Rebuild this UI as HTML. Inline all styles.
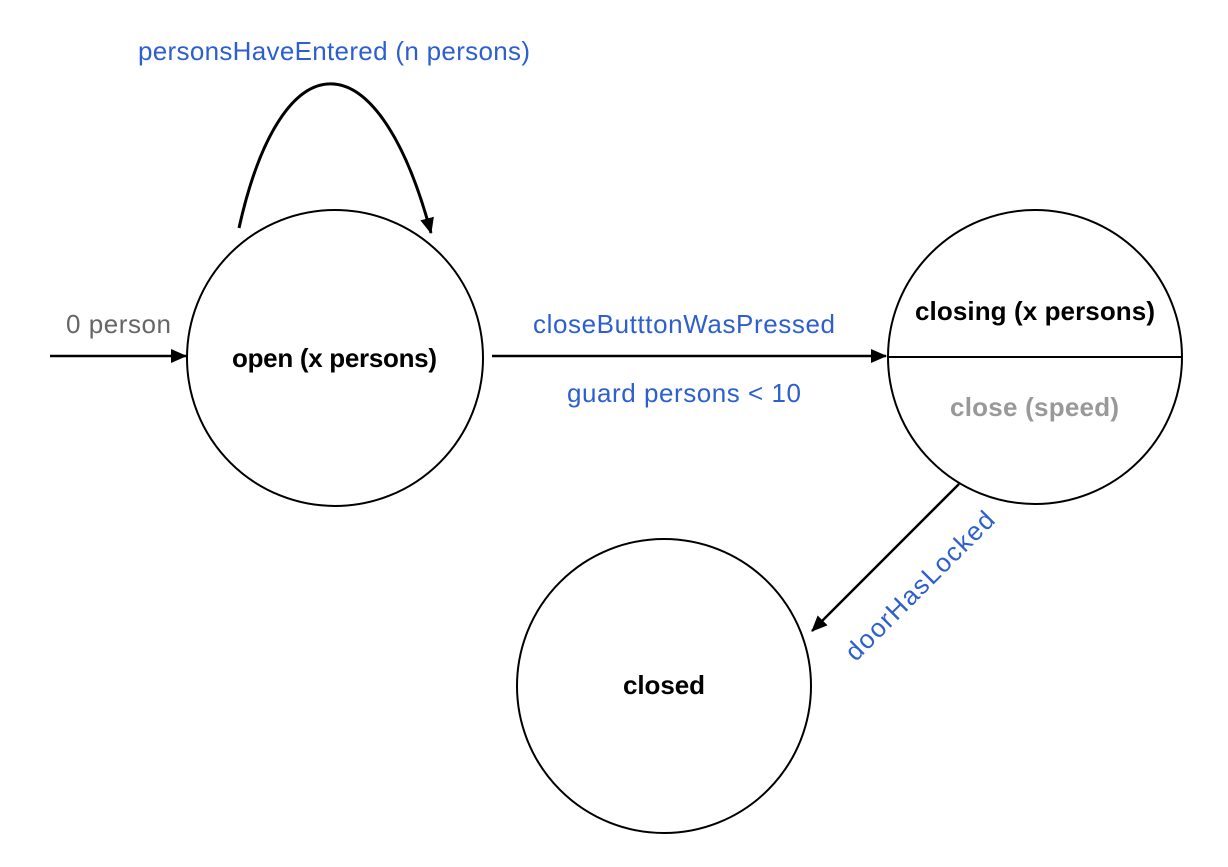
<!DOCTYPE html>
<html><head><style>
html,body{margin:0;padding:0;background:#fff;}
svg{display:block;}
text{font-family:"Liberation Sans",Arial,sans-serif;font-size:26px;}
</style></head><body>
<svg width="1228" height="867" viewBox="0 0 1228 867" xmlns="http://www.w3.org/2000/svg">
<defs>
<marker id="ah2" markerWidth="16" markerHeight="14" refX="15" refY="7" orient="auto" markerUnits="userSpaceOnUse">
<path d="M0,0 L16,7 L0,14 z" fill="#000"/>
</marker>
</defs>
<g fill="none" stroke="#000" stroke-width="2">
<circle cx="335" cy="358" r="148"/>
<circle cx="1035" cy="357" r="147"/>
<line x1="888" y1="357" x2="1182" y2="357"/>
<circle cx="664" cy="686" r="147"/>
<line x1="50" y1="356" x2="186" y2="356" stroke-width="2.5" marker-end="url(#ah2)"/>
<line x1="492" y1="356" x2="886" y2="356" stroke-width="2.5" marker-end="url(#ah2)"/>
<line x1="959" y1="484" x2="812" y2="631" stroke-width="2.5" marker-end="url(#ah2)"/>
<path d="M239,228 C282,35 378,35 431,233" stroke-width="3" marker-end="url(#ah2)"/>
</g>
<text x="138" y="60" textLength="392" fill="#2d5fcf">personsHaveEntered (n persons)</text>
<text x="66" y="333" textLength="105" fill="#666">0 person</text>
<text x="232" y="367" textLength="205" font-weight="bold" fill="#000">open (x persons)</text>
<text x="533" y="333" textLength="302" fill="#2d5fcf">closeButttonWasPressed</text>
<text x="567" y="402" textLength="234" fill="#2d5fcf">guard persons &lt; 10</text>
<text x="915" y="320" textLength="240" font-weight="bold" fill="#000">closing (x persons)</text>
<text x="950" y="416" textLength="169" font-weight="bold" fill="#999">close (speed)</text>
<text x="623" y="694" textLength="82" font-weight="bold" fill="#000">closed</text>
<text x="0" y="0" text-anchor="middle" textLength="199" fill="#2d5fcf" transform="translate(926,592) rotate(-45)">doorHasLocked</text>
</svg>
</body></html>
